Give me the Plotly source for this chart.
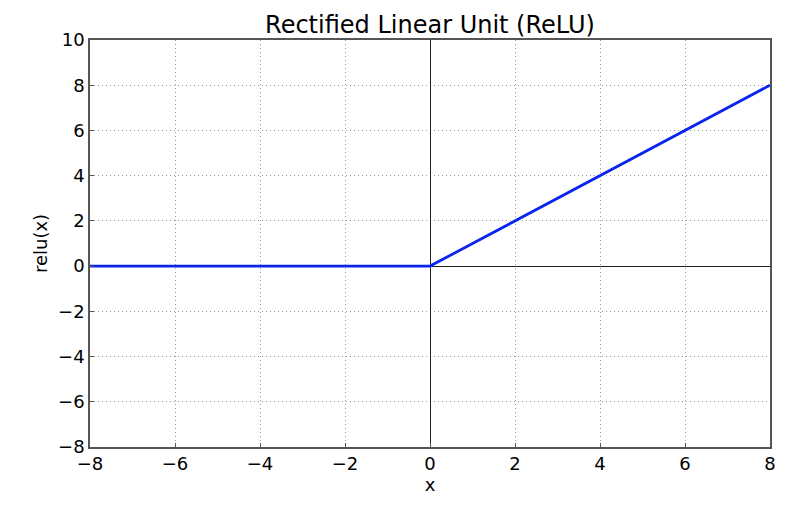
import plotly.graph_objects as go

x_vals = [-8, 0, 8]
y_vals = [0, 0, 8]
x_ticks = [-8, -6, -4, -2, 0, 2, 4, 6, 8]
y_ticks = [-8, -6, -4, -2, 0, 2, 4, 6, 8, 10]

def lab(v):
    return ("\u2212" + str(abs(v))) if v < 0 else str(v)

fig = go.Figure()
fig.add_trace(go.Scatter(x=x_vals, y=y_vals, mode="lines",
                         line=dict(color="#0a24f0", width=2.8), showlegend=False))

axis_common = dict(
    showline=True, linecolor="#555555", linewidth=1.5, mirror=True,
    showgrid=True, gridcolor="#999999", griddash="1px,3px", gridwidth=1,
    zeroline=True, zerolinecolor="#222222", zerolinewidth=1,
    ticks="inside", ticklen=4, tickcolor="#555555",
    tickfont=dict(family="DejaVu Sans", size=18, color="black"),
)
fig.update_xaxes(range=[-8, 8], tickvals=x_ticks, ticktext=[lab(v) for v in x_ticks],
                 title=dict(text="x", font=dict(family="DejaVu Sans", size=18, color="black"), standoff=4),
                 **axis_common)
fig.update_yaxes(range=[-8, 10], tickvals=y_ticks, ticktext=[lab(v) for v in y_ticks],
                 title=dict(text="relu(x)", font=dict(family="DejaVu Sans", size=18, color="black"), standoff=6),
                 **axis_common)
fig.update_layout(
    width=800, height=512,
    margin=dict(l=82, r=38, t=32, b=73),
    paper_bgcolor="white", plot_bgcolor="white",
    title=dict(text="Rectified Linear Unit (ReLU)", xref="paper", x=0.5, xanchor="center",
               yref="paper", y=1.0, yanchor="bottom", pad=dict(b=7),
               font=dict(family="DejaVu Sans", size=24, color="black")),
)
fig.write_html("out.html")
